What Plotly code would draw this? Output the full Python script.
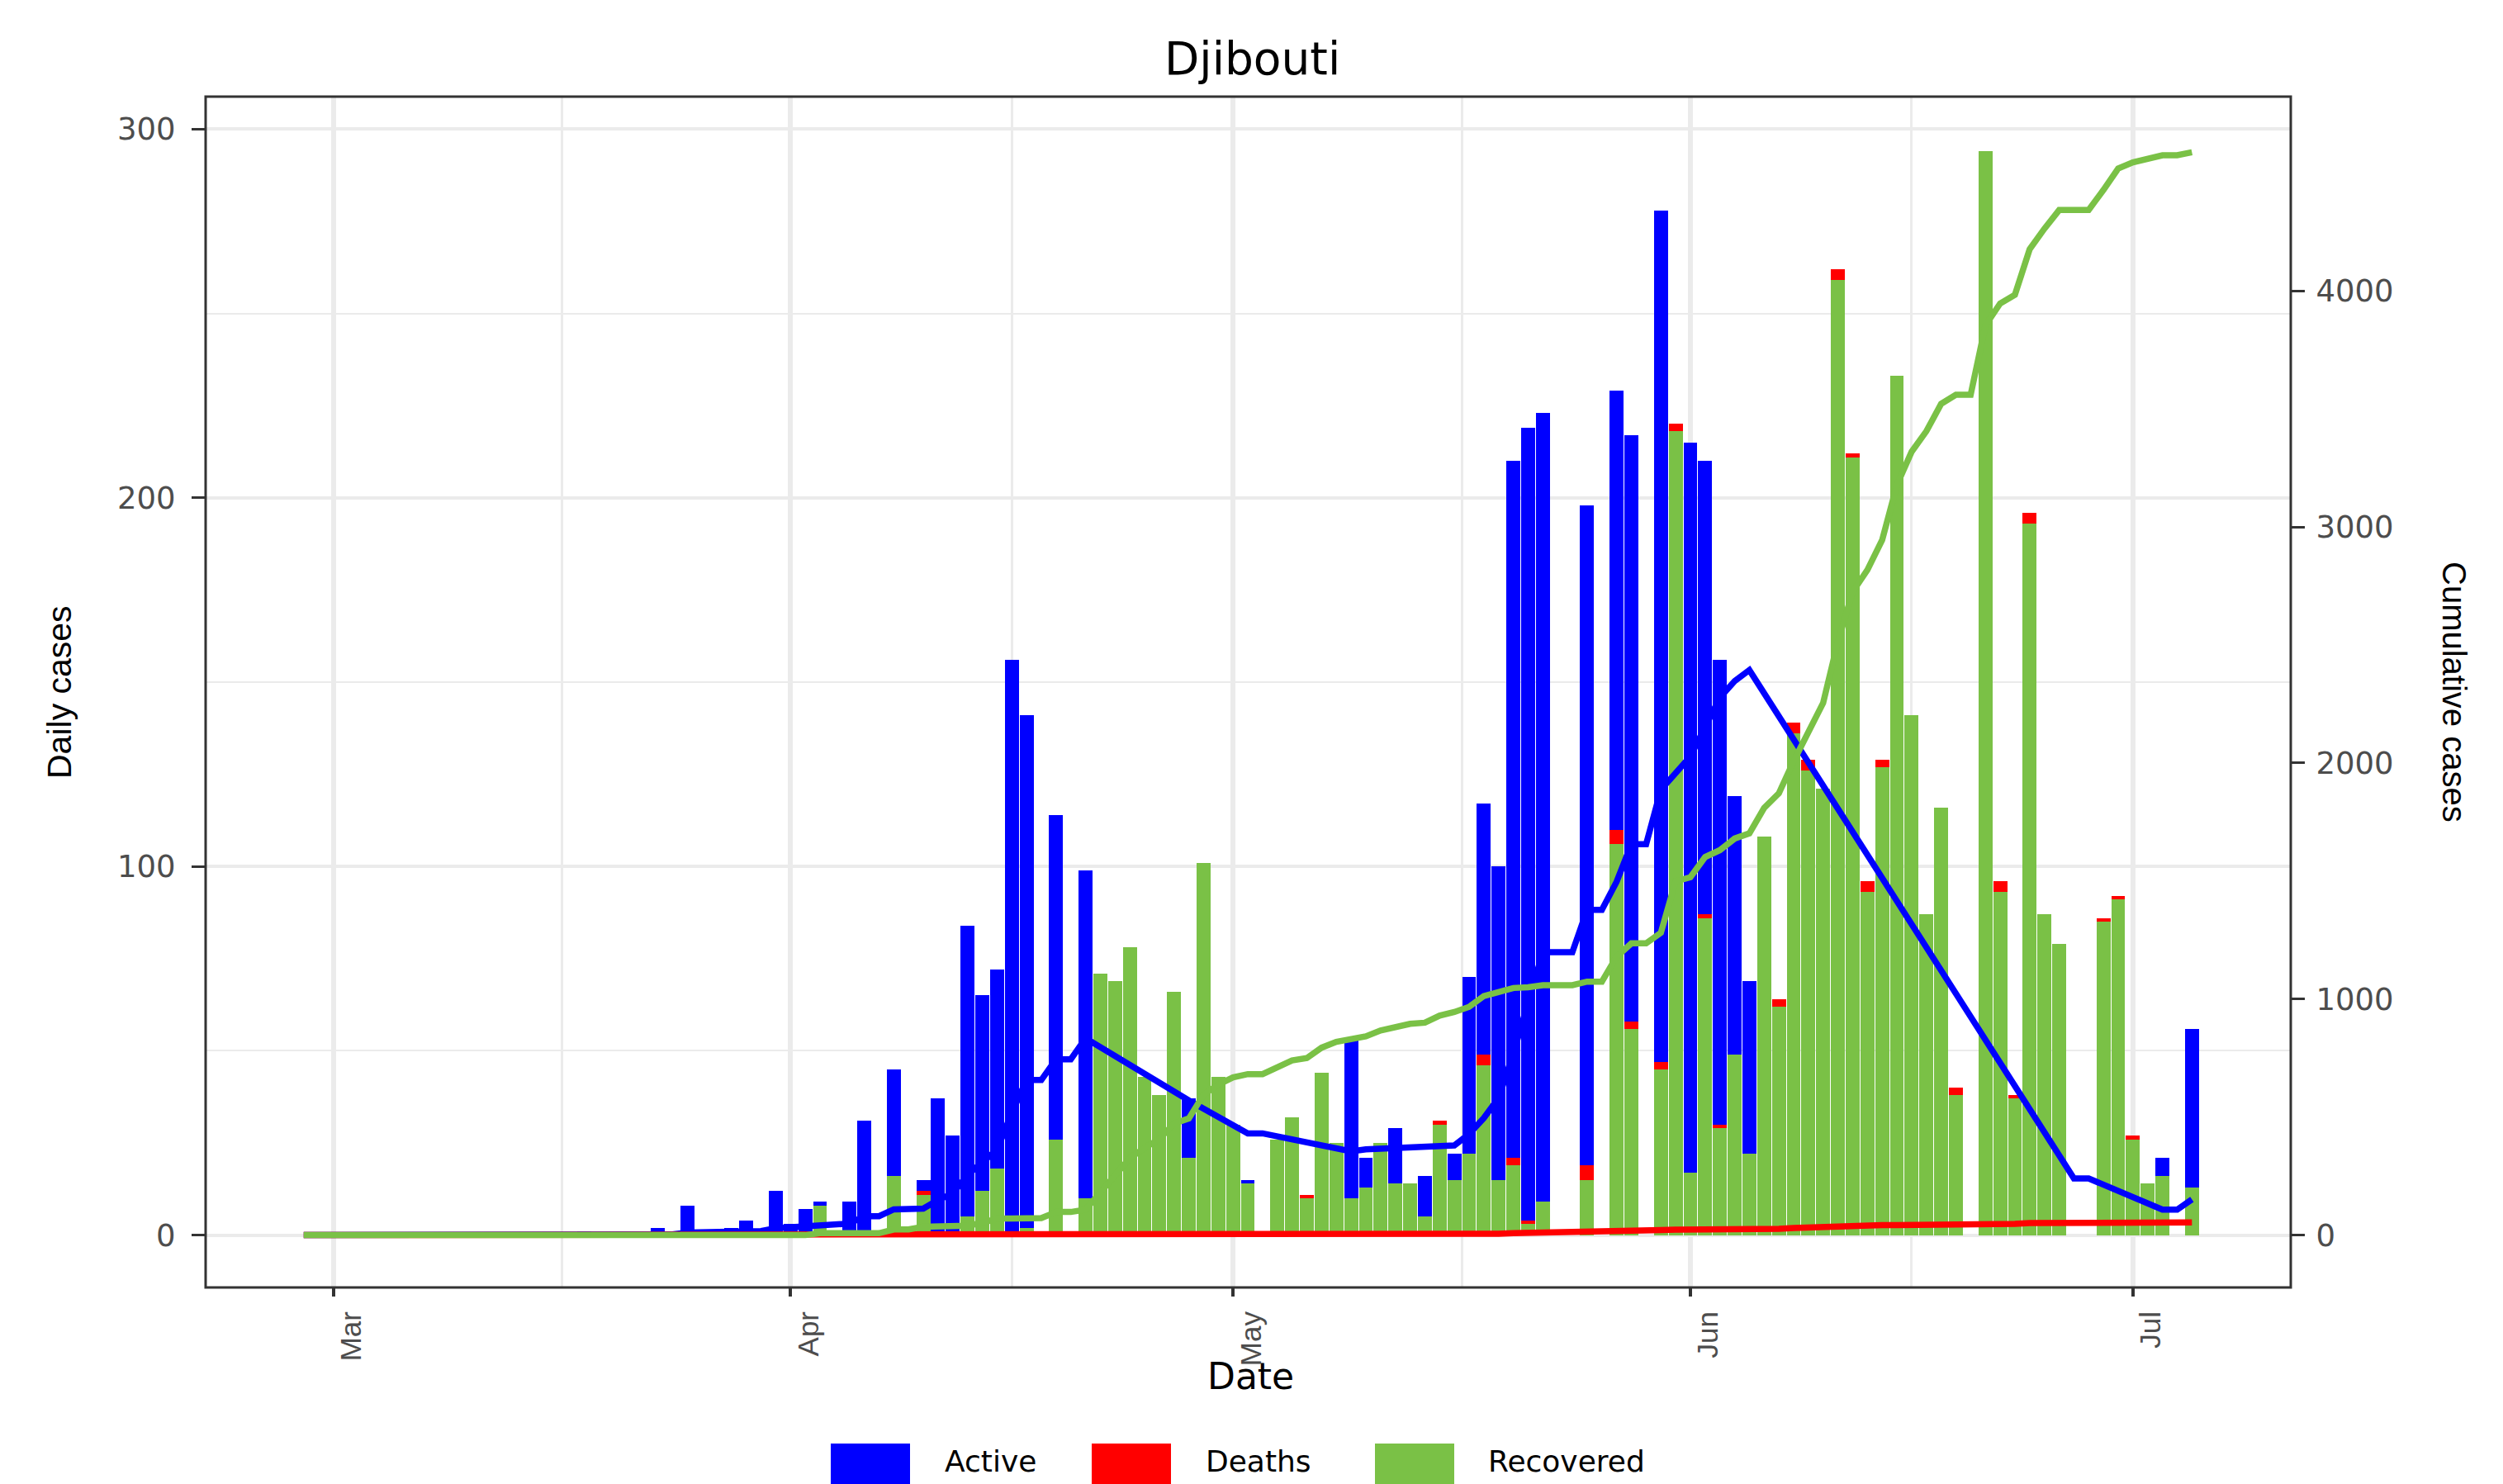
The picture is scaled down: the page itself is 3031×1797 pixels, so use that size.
import pandas as pd
import plotly.graph_objects as go

# ---------------- data ----------------
dates = pd.date_range("2020-02-28", "2020-07-05", freq="D")   # 129 days

# daily values: Feb 28-29 | Mar 1-31 | Apr 1-30 | May 1-31 | Jun 1-30 | Jul 1-5
active_daily = (
    [0, 0]
    + [0, 0, 0, 0, 0, 0, 0, 0, 0, 0, 0, 0, 0, 0, 0, 0, 0, 1, 0, 0,
       0, 0, 2, 0, 8, 0, 0, 2, 4, 0, 12]
    + [3, 7, 1, 0, 9, 31, 0, 29, 0, 3, 37, 27, 79, 53, 54, 156, 139, 0, 88, 0,
       89, 0, 0, 0, 0, 0, 0, 16, 0, 0]
    + [0, 1, 0, 0, 0, 0, 0, 0, 43, 8, 0, 15, 0, 11, 0, 7, 48, 68, 85, 189,
       215, 214, 0, 0, 179, 0, 119, 159, 0, 231, 0]
    + [198, 123, 126, 70, 47, 0, 0, 0, 0, 0, 0, 0, 0, 0, 0, 0, 0, 0, 0, 0,
       0, 0, 0, 0, 0, 0, 0, 0, 0, 0]
    + [0, 0, 5, 0, 43]
)
deaths_daily = (
    [0, 0]
    + [0, 0, 0, 0, 0, 0, 0, 0, 0, 0, 0, 0, 0, 0, 0, 0, 0, 0, 0, 0,
       0, 0, 0, 0, 0, 0, 0, 0, 0, 0, 0]
    + [0, 0, 0, 0, 0, 0, 0, 0, 0, 1, 0, 0, 0, 0, 0, 0, 0, 0, 0, 0,
       0, 0, 0, 0, 0, 0, 0, 0, 0, 0]
    + [0, 0, 0, 0, 0, 1, 0, 0, 0, 0, 0, 0, 0, 0, 1, 0, 0, 3, 0, 2,
       1, 0, 0, 0, 4, 0, 4, 2, 0, 2, 2]
    + [0, 1, 1, 0, 0, 0, 2, 3, 3, 0, 3, 1, 3, 2, 0, 0, 0, 0, 2, 0,
       0, 3, 1, 3, 0, 0, 0, 0, 1, 1]
    + [1, 0, 0, 0, 0]
)
recovered_daily = (
    [0, 0]
    + [0, 0, 0, 0, 0, 0, 0, 0, 0, 0, 0, 0, 0, 0, 0, 0, 0, 0, 0, 0,
       0, 0, 0, 0, 0, 0, 0, 0, 0, 0, 0]
    + [0, 0, 8, 0, 0, 0, 0, 16, 0, 11, 0, 0, 5, 12, 18, 0, 2, 0, 26, 0,
       10, 71, 69, 78, 43, 38, 66, 21, 101, 43]
    + [30, 14, 0, 26, 32, 10, 44, 25, 10, 13, 25, 14, 14, 5, 30, 15, 22, 46, 15, 19,
       3, 9, 0, 0, 15, 0, 106, 56, 0, 45, 218]
    + [17, 86, 29, 49, 22, 108, 62, 136, 126, 121, 259, 211, 93, 127, 233, 141, 87, 116, 38, 0,
       294, 93, 37, 193, 87, 79, 0, 0, 85, 91]
    + [26, 14, 16, 0, 13]
)

# cumulative lines (secondary axis)
deaths_cum = (
    [0, 0]
    + [0, 0, 0, 0, 0, 0, 0, 0, 0, 0, 0, 0, 0, 0, 0, 0, 0, 0, 0, 0,
       0, 0, 0, 0, 0, 0, 0, 0, 0, 0, 0]
    + [0, 0, 0, 0, 0, 0, 0, 0, 0, 1, 1, 1, 1, 1, 1, 1, 1, 1, 1, 1,
       1, 1, 1, 1, 1, 1, 1, 1, 1, 1]
    + [1, 1, 1, 1, 1, 2, 2, 2, 2, 2, 2, 2, 2, 2, 3, 3, 3, 6, 6, 8,
       9, 9, 9, 9, 13, 13, 17, 19, 19, 21, 23]
    + [23, 24, 25, 25, 25, 25, 27, 30, 33, 33, 36, 37, 40, 42, 42, 42, 42, 42, 44, 44,
       44, 47, 48, 51, 51, 51, 51, 51, 52, 53]
    + [54, 54, 54, 54, 54]
)
recovered_cum = (
    [0, 0]
    + [0, 0, 0, 0, 0, 0, 0, 0, 0, 0, 0, 0, 0, 0, 0, 0, 0, 0, 0, 0,
       0, 0, 0, 0, 0, 0, 0, 0, 0, 0, 0]
    + [0, 0, 8, 8, 8, 8, 8, 24, 24, 35, 35, 35, 40, 52, 70, 70, 72, 72, 98, 98,
       108, 179, 248, 326, 369, 407, 473, 494, 595, 638]
    + [668, 682, 682, 708, 740, 750, 794, 819, 829, 842, 867, 881, 895, 900, 930, 945, 967, 1013, 1028, 1047,
       1050, 1059, 1059, 1059, 1074, 1074, 1180, 1236, 1236, 1281, 1499]
    + [1516, 1602, 1631, 1680, 1702, 1810, 1872, 2008, 2134, 2255, 2514, 2725, 2818, 2945, 3178, 3319, 3406, 3522, 3560, 3560,
       3854, 3947, 3984, 4177, 4264, 4343, 4343, 4343, 4428, 4519]
    + [4545, 4559, 4575, 4575, 4588]
)
# active cumulative line: only drawn through the days that carry a point
active_line_dates = list(pd.date_range("2020-02-28", "2020-04-21", freq="D").strftime("%Y-%m-%d")) + [
    "2020-04-28", "2020-05-02", "2020-05-03", "2020-05-09", "2020-05-10", "2020-05-12",
    "2020-05-14", "2020-05-16", "2020-05-17", "2020-05-18", "2020-05-19", "2020-05-20",
    "2020-05-21", "2020-05-22", "2020-05-23", "2020-05-24", "2020-05-25", "2020-05-26",
    "2020-05-27", "2020-05-28", "2020-05-29", "2020-05-30", "2020-06-01", "2020-06-02",
    "2020-06-03", "2020-06-04", "2020-06-05", "2020-06-27", "2020-06-28", "2020-07-03",
    "2020-07-04", "2020-07-05",
]
active_line_values = (
    [0, 0]
    + [0, 0, 0, 0, 0, 0, 0, 0, 0, 0, 0, 0, 0, 0, 0, 0, 0, 1, 1, 1,
       1, 1, 3, 3, 11, 11, 11, 13, 17, 17, 29]
    + [32, 39, 40, 40, 49, 80, 80, 109, 109, 112, 149, 176, 255, 308, 362, 518, 657, 657, 745, 745,
       834]
    + [571, 431, 431, 355, 363, 370, 376, 380, 428, 496, 581, 770,
       985, 1199, 1199, 1199, 1378, 1378, 1497, 1656, 1656, 1887, 2028, 2151,
       2277, 2347, 2394, 240, 240, 108, 108, 151]
)

month_ticks = ["2020-03-01", "2020-04-01", "2020-05-01", "2020-06-01", "2020-07-01"]
month_labels = ["Mar", "Apr", "May", "Jun", "Jul"]
month_minor = ["2020-03-16 12:00", "2020-04-16", "2020-05-16 12:00", "2020-06-16"]
left_ticks = [0, 100, 200, 300]
right_ticks = [0, 1000, 2000, 3000, 4000]

series_names = ["Active", "Deaths", "Recovered"]

# ---------------- styling / layout ----------------
BLUE, RED, GREEN = "#0000FF", "#FF0000", "#7AC146"
W, H = 3031, 1797
L, R, T, B = 249, 2774, 117, 1559          # panel edges in pixels
K = 15.62                                   # secondary-axis scale factor
YR = [-14.2, 308.8]

def px_x(x):
    return (x - L) / (R - L)

def px_y(y):
    return (B - y) / (B - T)

x_start = str(pd.Timestamp("2020-03-01") - pd.Timedelta(days=8.65))
x_end = str(pd.Timestamp("2020-07-01") + pd.Timedelta(days=10.7))

fig = go.Figure()
bar_w = 0.945 * 86400000
for name, vals, col in [("Recovered", recovered_daily, GREEN),
                        ("Deaths", deaths_daily, RED),
                        ("Active", active_daily, BLUE)]:
    fig.add_trace(go.Bar(x=dates, y=vals, name=name, width=bar_w,
                         marker=dict(color=col, line=dict(width=0)),
                         showlegend=False))

for name, xs, ys, col in [("Active", active_line_dates, active_line_values, BLUE),
                          ("Deaths", dates, deaths_cum, RED),
                          ("Recovered", dates, recovered_cum, GREEN)]:
    fig.add_trace(go.Scatter(x=xs, y=ys, yaxis="y2", mode="lines", name=name,
                             line=dict(color=col, width=7.5), showlegend=False))

tick_font = dict(family="DejaVu Sans", size=37, color="#4D4D4D")
fig.update_layout(
    width=W, height=H, autosize=False,
    margin=dict(l=L, r=W - R, t=T, b=H - B, pad=0),
    paper_bgcolor="white", plot_bgcolor="white",
    barmode="stack", showlegend=False,
    xaxis=dict(
        type="date", range=[x_start, x_end], automargin=False,
        tickvals=month_ticks, ticktext=month_labels, tickangle=-90,
        tickfont=dict(family="Liberation Sans", size=35, color="#4D4D4D"),
        ticks="outside", ticklen=10, tickwidth=4, tickcolor="#333333",
        ticklabelshift=22, ticklabelstandoff=4,
        showgrid=True, gridcolor="#EBEBEB", gridwidth=5.5,
        minor=dict(tickvals=month_minor, showgrid=True, gridcolor="#EBEBEB", gridwidth=2.8, ticks=""),
        showline=False, zeroline=False,
    ),
    yaxis=dict(
        range=YR, automargin=False,
        tickvals=left_ticks, tickfont=tick_font,
        ticks="outside", ticklen=16, tickwidth=3, tickcolor="#333333",
        ticklabelstandoff=12,
        showgrid=True, gridcolor="#EBEBEB", gridwidth=3.5,
        minor=dict(tickvals=[50, 150, 250], showgrid=True, gridcolor="#EBEBEB", gridwidth=1.8, ticks=""),
        showline=False, zeroline=False,
    ),
    yaxis2=dict(
        overlaying="y", side="right", anchor="x",
        range=[YR[0] * K, YR[1] * K], automargin=False,
        tickvals=right_ticks, tickfont=tick_font,
        ticks="outside", ticklen=16, tickwidth=3, tickcolor="#333333",
        ticklabelstandoff=6,
        showgrid=False, showline=False, zeroline=False,
    ),
)

# panel border
fig.add_shape(type="rect", xref="paper", yref="paper", x0=0, x1=1, y0=0, y1=1,
              line=dict(color="#333333", width=3), fillcolor="rgba(0,0,0,0)", layer="above")

# titles
fig.add_annotation(text="Djibouti", xref="paper", yref="paper", x=px_x(1516), y=px_y(71),
                   showarrow=False, xanchor="center", yanchor="middle",
                   font=dict(family="DejaVu Sans", size=55, color="black"))
fig.add_annotation(text="Date", xref="paper", yref="paper", x=px_x(1514), y=px_y(1666),
                   showarrow=False, xanchor="center", yanchor="middle",
                   font=dict(family="DejaVu Sans", size=44, color="black"))
fig.add_annotation(text="Daily cases", xref="paper", yref="paper", x=px_x(72), y=0.5,
                   showarrow=False, xanchor="center", yanchor="middle", textangle=-90,
                   font=dict(family="Liberation Sans", size=41, color="black"))
fig.add_annotation(text="Cumulative cases", xref="paper", yref="paper", x=px_x(2972), y=0.5,
                   showarrow=False, xanchor="center", yanchor="middle", textangle=90,
                   font=dict(family="Liberation Sans", size=40, color="black"))

# legend (bottom)
legend_keys = [(1006, BLUE), (1322, RED), (1665, GREEN)]
legend_text_x = [1142, 1458, 1800]
for (kx, col), tx, name in zip(legend_keys, legend_text_x, series_names):
    fig.add_shape(type="rect", xref="paper", yref="paper",
                  x0=px_x(kx), x1=px_x(kx + 96), y0=px_y(1748), y1=px_y(1810),
                  fillcolor=col, line=dict(width=0))
    fig.add_annotation(text=name, xref="paper", yref="paper", x=px_x(tx), y=px_y(1769),
                       showarrow=False, xanchor="left", yanchor="middle",
                       font=dict(family="DejaVu Sans", size=36, color="black"))

fig.write_html("out.html", config={"displayModeBar": False},
               post_script="document.body.style.margin='0';document.body.style.overflow='hidden';")
